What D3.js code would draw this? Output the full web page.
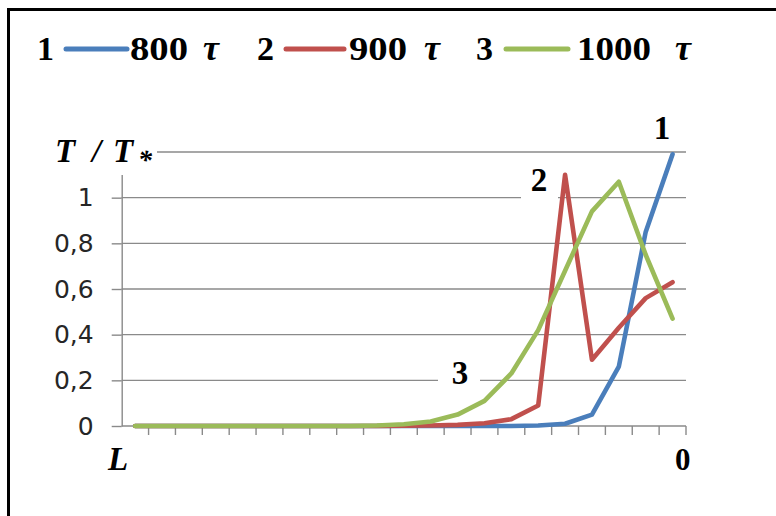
<!DOCTYPE html>
<html>
<head>
<meta charset="utf-8">
<script src="https://cdn.jsdelivr.net/npm/d3@7/dist/d3.min.js"></script>
<style>
  body { margin: 0; background: #fff; }
  svg { display: block; }
</style>
</head>
<body>
<svg id="chart" width="776" height="516"></svg>
<script>
// Grid nodes across the layer, from the far edge L to the surface 0
const categories = ["1","2","3","4","5","6","7","8","9","10","11","12","13","14","15","16","17","18","19","20","21"];

// Relative temperature T/T* at each node for three moments in time
const series800 = [0,0,0,0,0,0,0,0,0,0,0,0,0,0,0,0.002,0.01,0.05,0.26,0.85,1.19];
const series900 = [0,0,0,0,0,0,0,0,0,0,0.001,0.002,0.005,0.012,0.03,0.09,1.10,0.29,0.43,0.56,0.63];
const series1000 = [0,0,0,0,0,0,0,0,0,0.002,0.008,0.02,0.05,0.11,0.23,0.42,0.68,0.94,1.07,0.75,0.47];

const seriesNumbers = ["1", "2", "3"];
const seriesNames = ["800", "900", "1000"];
const yTicks = [0, 0.2, 0.4, 0.6, 0.8, 1];
const gridValues = [0.2, 0.4, 0.6, 0.8, 1, 1.2];
const xEndLabels = ["L", "0"];

const colors = ["#4a7ebb", "#c0504d", "#9bbb59"];
const allSeries = [series800, series900, series1000];

const svg = d3.select("#chart");
const serif = "'Liberation Serif', 'Times New Roman', serif";

// frame
svg.append("line").attr("x1", 8).attr("x2", 776).attr("y1", 9.5).attr("y2", 9.5)
  .attr("stroke", "#000").attr("stroke-width", 3);
svg.append("line").attr("x1", 8.5).attr("x2", 8.5).attr("y1", 8).attr("y2", 516)
  .attr("stroke", "#000").attr("stroke-width", 3);

const x = d3.scaleBand().domain(categories).range([121.7, 686]).padding(0);
const y = d3.scaleLinear().domain([0, 1.2]).range([426, 152]);
const cx = d => x(d) + x.bandwidth() / 2;

// horizontal gridlines
svg.append("g").selectAll("line").data(gridValues).join("line")
  .attr("x1", 121.7).attr("x2", 686)
  .attr("y1", d => y(d)).attr("y2", d => y(d))
  .attr("stroke", "#8a8a8a").attr("stroke-width", 1.4);

// vertical axis
const fmt = d => (d === 0 ? "0" : d === 1 ? "1" : d3.format(".1f")(d).replace(".", ","));
const yAxis = svg.append("g").attr("transform", "translate(121.7,0)")
  .call(d3.axisLeft(y).tickValues(yTicks).tickFormat(fmt).tickSize(10).tickSizeOuter(0).tickPadding(18));
yAxis.select(".domain").attr("stroke", "#8a8a8a").attr("stroke-width", 1.4);
yAxis.selectAll(".tick line").attr("stroke", "#8a8a8a").attr("stroke-width", 1.4);
yAxis.selectAll(".tick text")
  .attr("font-family", "'DejaVu Sans', Verdana, sans-serif")
  .attr("font-size", 25).attr("fill", "#262626");

// horizontal axis with ticks between nodes
const xAxis = svg.append("g").attr("transform", "translate(0,426)");
xAxis.append("line").attr("x1", 121.7).attr("x2", 686).attr("y1", 0).attr("y2", 0)
  .attr("stroke", "#8a8a8a").attr("stroke-width", 1.4);
xAxis.selectAll("line.tk").data(categories).join("line").attr("class", "tk")
  .attr("x1", d => x(d) + x.bandwidth()).attr("x2", d => x(d) + x.bandwidth())
  .attr("y1", 0).attr("y2", 9)
  .attr("stroke", "#8a8a8a").attr("stroke-width", 1.4);

// white backing behind the in-plot labels
const boxes = [
  { x: 44, y: 126, w: 113, h: 49 },
  { x: 648, y: 108, w: 50, h: 43 },
  { x: 521, y: 165, w: 37, h: 40 },
  { x: 438, y: 358, w: 42, h: 34 }
];
svg.append("g").selectAll("rect").data(boxes).join("rect")
  .attr("x", d => d.x).attr("y", d => d.y).attr("width", d => d.w).attr("height", d => d.h)
  .attr("fill", "#fff");

// series lines
const line = d3.line().x((d, i) => cx(categories[i])).y(d => y(d));
svg.append("g").selectAll("path").data(allSeries).join("path")
  .attr("d", d => line(d))
  .attr("fill", "none")
  .attr("stroke", (d, i) => colors[i])
  .attr("stroke-width", 4.6)
  .attr("stroke-linejoin", "round")
  .attr("stroke-linecap", "round");

// axis title T / T*
const title = svg.append("text").attr("y", 162)
  .attr("font-family", serif).attr("font-size", 33)
  .attr("font-weight", "bold").attr("font-style", "italic").attr("fill", "#000");
title.append("tspan").attr("x", 55).text("T");
title.append("tspan").attr("x", 92).text("/");
title.append("tspan").attr("x", 113).text("T");
title.append("tspan").attr("x", 138).attr("dy", 7).attr("font-size", 28).text("*");

// ends of the horizontal axis
svg.append("text").attr("x", 108).attr("y", 470)
  .attr("font-family", serif).attr("font-size", 33)
  .attr("font-weight", "bold").attr("font-style", "italic").text(xEndLabels[0]);
svg.append("text").attr("x", 675).attr("y", 470)
  .attr("font-family", serif).attr("font-size", 31)
  .attr("font-weight", "bold").text(xEndLabels[1]);

// curve numbers inside the plot
const curveLabels = [
  { t: seriesNumbers[0], x: 662, y: 139 },
  { t: seriesNumbers[1], x: 539, y: 191 },
  { t: seriesNumbers[2], x: 460, y: 384 }
];
svg.append("g").selectAll("text").data(curveLabels).join("text")
  .attr("x", d => d.x).attr("y", d => d.y).attr("text-anchor", "middle")
  .attr("font-family", serif).attr("font-size", 33).attr("font-weight", "bold")
  .text(d => d.t);

// legend
const legendItems = [
  { n: 0, numX: 37, l1: 66, l2: 127, nameX: 130, nameW: 58, tauX: 203 },
  { n: 1, numX: 257, l1: 286, l2: 344, nameX: 349, nameW: 58, tauX: 424 },
  { n: 2, numX: 476, l1: 506, l2: 568, nameX: 577, nameW: 74, tauX: 675 }
];
const lg = svg.append("g");
legendItems.forEach(it => {
  lg.append("text").attr("x", it.numX).attr("y", 60)
    .attr("font-family", serif).attr("font-size", 34).attr("font-weight", "bold")
    .text(seriesNumbers[it.n]);
  lg.append("line").attr("x1", it.l1).attr("x2", it.l2).attr("y1", 49).attr("y2", 49)
    .attr("stroke", colors[it.n]).attr("stroke-width", 5).attr("stroke-linecap", "round");
  lg.append("text").attr("x", it.nameX).attr("y", 60)
    .attr("font-family", serif).attr("font-size", 34).attr("font-weight", "bold")
    .attr("textLength", it.nameW).attr("lengthAdjust", "spacingAndGlyphs")
    .text(seriesNames[it.n]);
  lg.append("text").attr("x", it.tauX).attr("y", 60)
    .attr("font-family", serif).attr("font-size", 36).attr("font-weight", "bold")
    .attr("font-style", "italic").text("τ");
});
</script>
</body>
</html>
